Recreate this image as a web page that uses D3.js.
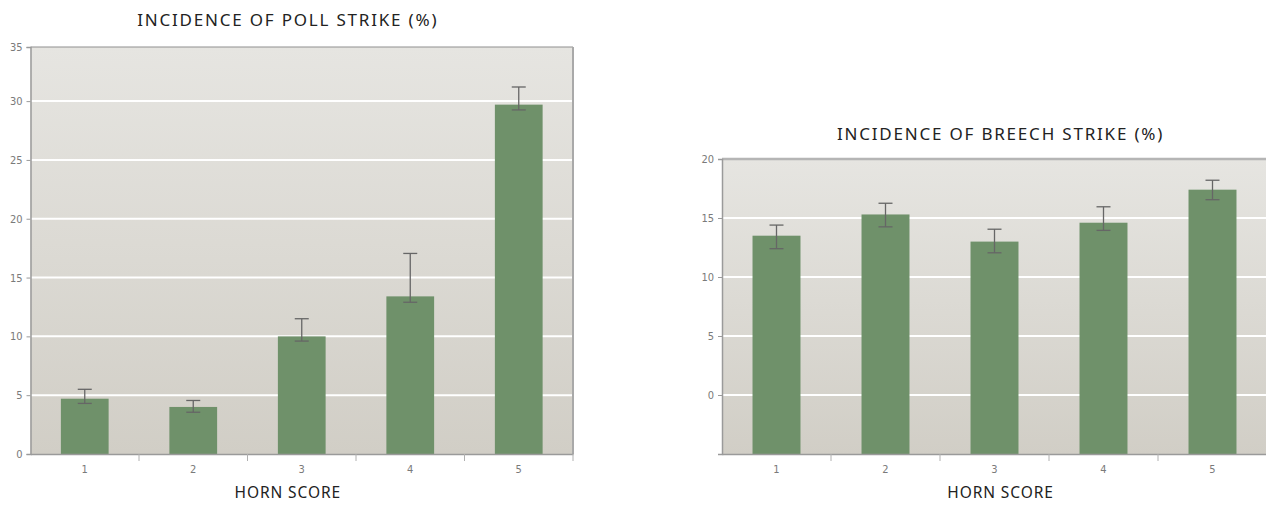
<!DOCTYPE html>
<html><head><meta charset="utf-8">
<script src="https://cdn.jsdelivr.net/npm/d3@7"></script>
<style>
html,body{margin:0;padding:0;background:#fff;}
svg{display:block;}
.tick text{font-family:"DejaVu Sans Condensed","DejaVu Sans",sans-serif;font-size:11px;fill:#7a7a7a;}
.title{font-family:"Noto Sans",sans-serif;font-size:17px;fill:#222;letter-spacing:1.8px;}
.xlabel{font-family:"Noto Sans",sans-serif;font-size:15.5px;fill:#222;letter-spacing:0.9px;}
</style>
</head><body>
<svg id="c" width="1266" height="505"></svg>
<script>
// ---- data ----
const categories = ["1","2","3","4","5"];
const pollValues = [4.7, 4.0, 10.0, 13.4, 29.7];
const pollUpper  = [5.5, 4.55, 11.5, 17.05, 31.2];
const pollLower  = [4.3, 3.55, 9.6, 12.9, 29.25];
const pollTicks  = [0, 5, 10, 15, 20, 25, 30, 35];
const breechValues = [13.5, 15.3, 13.0, 14.6, 17.4];
const breechUpper  = [14.4, 16.25, 14.05, 15.95, 18.2];
const breechLower  = [12.4, 14.25, 12.05, 13.95, 16.55];
const breechTicks  = [-5, 0, 5, 10, 15, 20];
const pollTitle = "INCIDENCE OF POLL STRIKE (%)";
const breechTitle = "INCIDENCE OF BREECH STRIKE (%)";
const xTitle = "HORN SCORE";

const svg = d3.select("#c");
const defs = svg.append("defs");
const grad = defs.append("linearGradient").attr("id","bg").attr("x1",0).attr("y1",0).attr("x2",0).attr("y2",1);
grad.append("stop").attr("offset","0%").attr("stop-color","#e6e5e1");
grad.append("stop").attr("offset","100%").attr("stop-color","#d1cec6");

function chart(opt){
  const {x0,x1,y0,y1,domain,ticks,values,upper,lower,title,titleY,rightBorder,tickLabel} = opt;
  const g = svg.append("g");
  const x = d3.scaleBand().domain(categories).range([x0,x1]).padding(0);
  const y = d3.scaleLinear().domain(domain).range([y1,y0]);
  g.append("rect").attr("x",x0).attr("y",y0).attr("width",x1-x0).attr("height",y1-y0).attr("fill","url(#bg)");
  // gridlines
  g.selectAll(".grid").data(ticks.filter(t=>t>domain[0] && t<domain[1])).join("line")
    .attr("x1",x0).attr("x2",x1).attr("y1",d=>y(d)).attr("y2",d=>y(d))
    .attr("stroke","#fff").attr("stroke-width",2);
  // top border
  g.append("line").attr("x1",x0).attr("x2",x1).attr("y1",y0).attr("y2",y0)
    .attr("stroke",opt.topColor).attr("stroke-width",opt.topWidth);
  if(rightBorder){
    g.append("line").attr("x1",x1).attr("x2",x1).attr("y1",y0).attr("y2",y1)
      .attr("stroke","#a9a9a9").attr("stroke-width",2);
  }
  // bars
  const bw = x.bandwidth()*0.44;
  g.selectAll(".bar").data(values).join("rect")
    .attr("x",(d,i)=>x(categories[i])+x.bandwidth()/2-bw/2)
    .attr("width",bw)
    .attr("y",d=>y(d)).attr("height",d=>y(domain[0])-y(d))
    .attr("fill","#6f916a");
  // error bars
  const eb = g.selectAll(".eb").data(values).join("g");
  const cx = i=>x(categories[i])+x.bandwidth()/2;
  eb.append("line").attr("x1",(d,i)=>cx(i)).attr("x2",(d,i)=>cx(i))
    .attr("y1",(d,i)=>y(upper[i])).attr("y2",(d,i)=>y(lower[i]))
    .attr("stroke","#666").attr("stroke-width",1.3);
  eb.append("line").attr("x1",(d,i)=>cx(i)-7).attr("x2",(d,i)=>cx(i)+7)
    .attr("y1",(d,i)=>y(upper[i])).attr("y2",(d,i)=>y(upper[i]))
    .attr("stroke","#666").attr("stroke-width",1.3);
  eb.append("line").attr("x1",(d,i)=>cx(i)-7).attr("x2",(d,i)=>cx(i)+7)
    .attr("y1",(d,i)=>y(lower[i])).attr("y2",(d,i)=>y(lower[i]))
    .attr("stroke","#666").attr("stroke-width",1.3);
  // y axis
  const ya = g.append("g").attr("transform",`translate(${x0},0)`)
    .call(d3.axisLeft(y).tickValues(ticks.map(t=>Math.min(Math.max(t,domain[0]),domain[1])))
      .tickSize(4).tickPadding(4).tickFormat((d,i)=>tickLabel(ticks[i])));
  ya.select(".domain").attr("stroke","#9a9a9a").attr("stroke-width",1.5);
  ya.selectAll(".tick line").attr("stroke","#9a9a9a");
  // x axis
  const xa = g.append("g").attr("transform",`translate(0,${y1})`)
    .call(d3.axisBottom(x).tickSize(0).tickPadding(11));
  xa.select(".domain").attr("stroke","#9a9a9a").attr("stroke-width",1.5);
  xa.selectAll(".tick line").remove();
  // boundary ticks
  g.selectAll(".bt").data(categories.slice(1).concat(["end"])).join("line")
    .attr("x1",d=>d==="end"?x1:x(d)).attr("x2",d=>d==="end"?x1:x(d))
    .attr("y1",y1).attr("y2",y1+7).attr("stroke","#b0b0b0").attr("stroke-width",1);
  // titles
  g.append("text").attr("class","title").attr("x",(x0+x1)/2+opt.titleDx).attr("y",titleY)
    .attr("text-anchor","middle").text(title);
  g.append("text").attr("class","xlabel").attr("x",(x0+x1)/2+opt.titleDx).attr("y",498)
    .attr("text-anchor","middle").text(xTitle);
}

chart({x0:30.5,x1:573,y0:47,y1:454,domain:[0,34.6],ticks:pollTicks,values:pollValues,
  upper:pollUpper,lower:pollLower,title:pollTitle,titleY:26,rightBorder:true,
  topColor:"#8f8f8f",topWidth:1.2,titleDx:-14,tickLabel:t=>String(t)});
chart({x0:722,x1:1267,y0:159,y1:454,domain:[-5,20],ticks:breechTicks,values:breechValues,
  upper:breechUpper,lower:breechLower,title:breechTitle,titleY:140,rightBorder:false,
  topColor:"#b5b5b5",topWidth:2.5,titleDx:6,tickLabel:t=>t<0?"":String(t)});
</script>
</body></html>
